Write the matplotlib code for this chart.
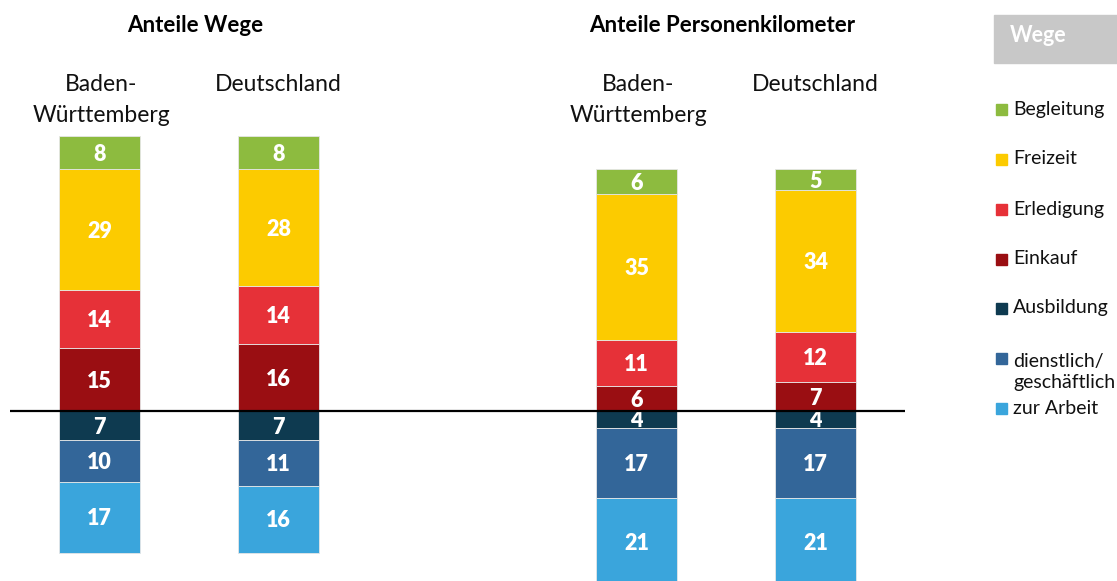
import matplotlib
matplotlib.use("Agg")
import matplotlib.pyplot as plt
from matplotlib.patches import Rectangle

plt.rcParams['font.family'] = ['Lato', 'DejaVu Sans']

# ---- data ----
groups = ["Anteile Wege", "Anteile Personenkilometer"]
regions = ["Baden-\nWürttemberg", "Deutschland"]
# above baseline (from baseline upwards)
einkauf    = [15, 16, 6, 7]
erledigung = [14, 14, 11, 12]
freizeit   = [29, 28, 35, 34]
begleitung = [8, 8, 6, 5]
# below baseline (from baseline downwards)
ausbildung = [7, 7, 4, 4]
dienstlich = [10, 11, 17, 17]
arbeit     = [17, 16, 21, 21]

legend_labels = ["Begleitung", "Freizeit", "Erledigung", "Einkauf", "Ausbildung",
                 "dienstlich/\ngeschäftlich", "zur Arbeit"]

colors = {
    "Begleitung": "#8DBB3F",
    "Freizeit": "#FCCB00",
    "Erledigung": "#E63138",
    "Einkauf": "#9A0E12",
    "Ausbildung": "#0E3A50",
    "dienstlich": "#336699",
    "Arbeit": "#3AA5DC",
}

W, H = 1117, 581
fig = plt.figure(figsize=(W / 100, H / 100), dpi=100)
ax = fig.add_axes([10 / W, 0, 895 / W, 1])
ax.set_xlim(-0.5, 4.5)
ax.set_ylim(-40.8, 98.6)
ax.axis('off')

xs = [g * 3 + i for g in range(2) for i in range(2)]
bw = 0.447
edge = dict(edgecolor='#e6e6e6', linewidth=0.6)
vfs = 15.5

for k, x in enumerate(xs):
    b = 0
    for vals, key in [(einkauf, "Einkauf"), (erledigung, "Erledigung"),
                      (freizeit, "Freizeit"), (begleitung, "Begleitung")]:
        v = vals[k]
        ax.bar(x, v, bw, bottom=b, color=colors[key], **edge)
        ax.text(x, b + v / 2 - 0.4, str(v), ha='center', va='center',
                color='white', fontweight='heavy', fontsize=vfs)
        b += v
    b = 0
    for vals, key in [(ausbildung, "Ausbildung"), (dienstlich, "dienstlich"),
                      (arbeit, "Arbeit")]:
        v = -vals[k]
        ax.bar(x, v, bw, bottom=b, color=colors[key], **edge)
        ax.text(x, b + v / 2 - 0.4, str(vals[k]), ha='center', va='center',
                color='white', fontweight='heavy', fontsize=vfs)
        b += v

ax.axhline(0, color='black', linewidth=1.6, zorder=5)

# region labels
for k, x in enumerate(xs):
    ax.text(x + (0.01 if k % 2 == 0 else 0), 80.8, regions[k % 2], ha='center', va='top',
            fontsize=16.5, linespacing=1.55, color='#111111')

# group titles
fig.text(195 / W, 1 - 25 / H, groups[0], ha='center', va='center',
         fontsize=16, fontweight='bold')
fig.text(722 / W, 1 - 25 / H, groups[1], ha='center', va='center',
         fontsize=16, fontweight='bold')

# "Wege" box
fig.patches.append(Rectangle((994 / W, 1 - 63 / H), 123 / W, 48 / H,
                             transform=fig.transFigure, color='#C8C8C8'))
fig.text(1010 / W, 1 - 36 / H, "Wege", ha='left', va='center',
         fontsize=15.5, fontweight='bold', color='white')

# legend
leg_colors = [colors["Begleitung"], colors["Freizeit"], colors["Erledigung"],
              colors["Einkauf"], colors["Ausbildung"], colors["dienstlich"],
              colors["Arbeit"]]
leg_y = [109, 159, 209, 259, 308, 358, 408]
for lab, c, yy in zip(legend_labels, leg_colors, leg_y):
    fig.patches.append(Rectangle((996 / W, 1 - (yy + 6) / H), 11 / W, 11 / H,
                                 transform=fig.transFigure, color=c))
    ty = yy + 14 if '\n' in lab else yy
    fig.text(1013 / W, 1 - ty / H, lab, ha='left', va='center',
             fontsize=14, linespacing=1.35, color='#111111')

fig.savefig("out.png", dpi=100)
